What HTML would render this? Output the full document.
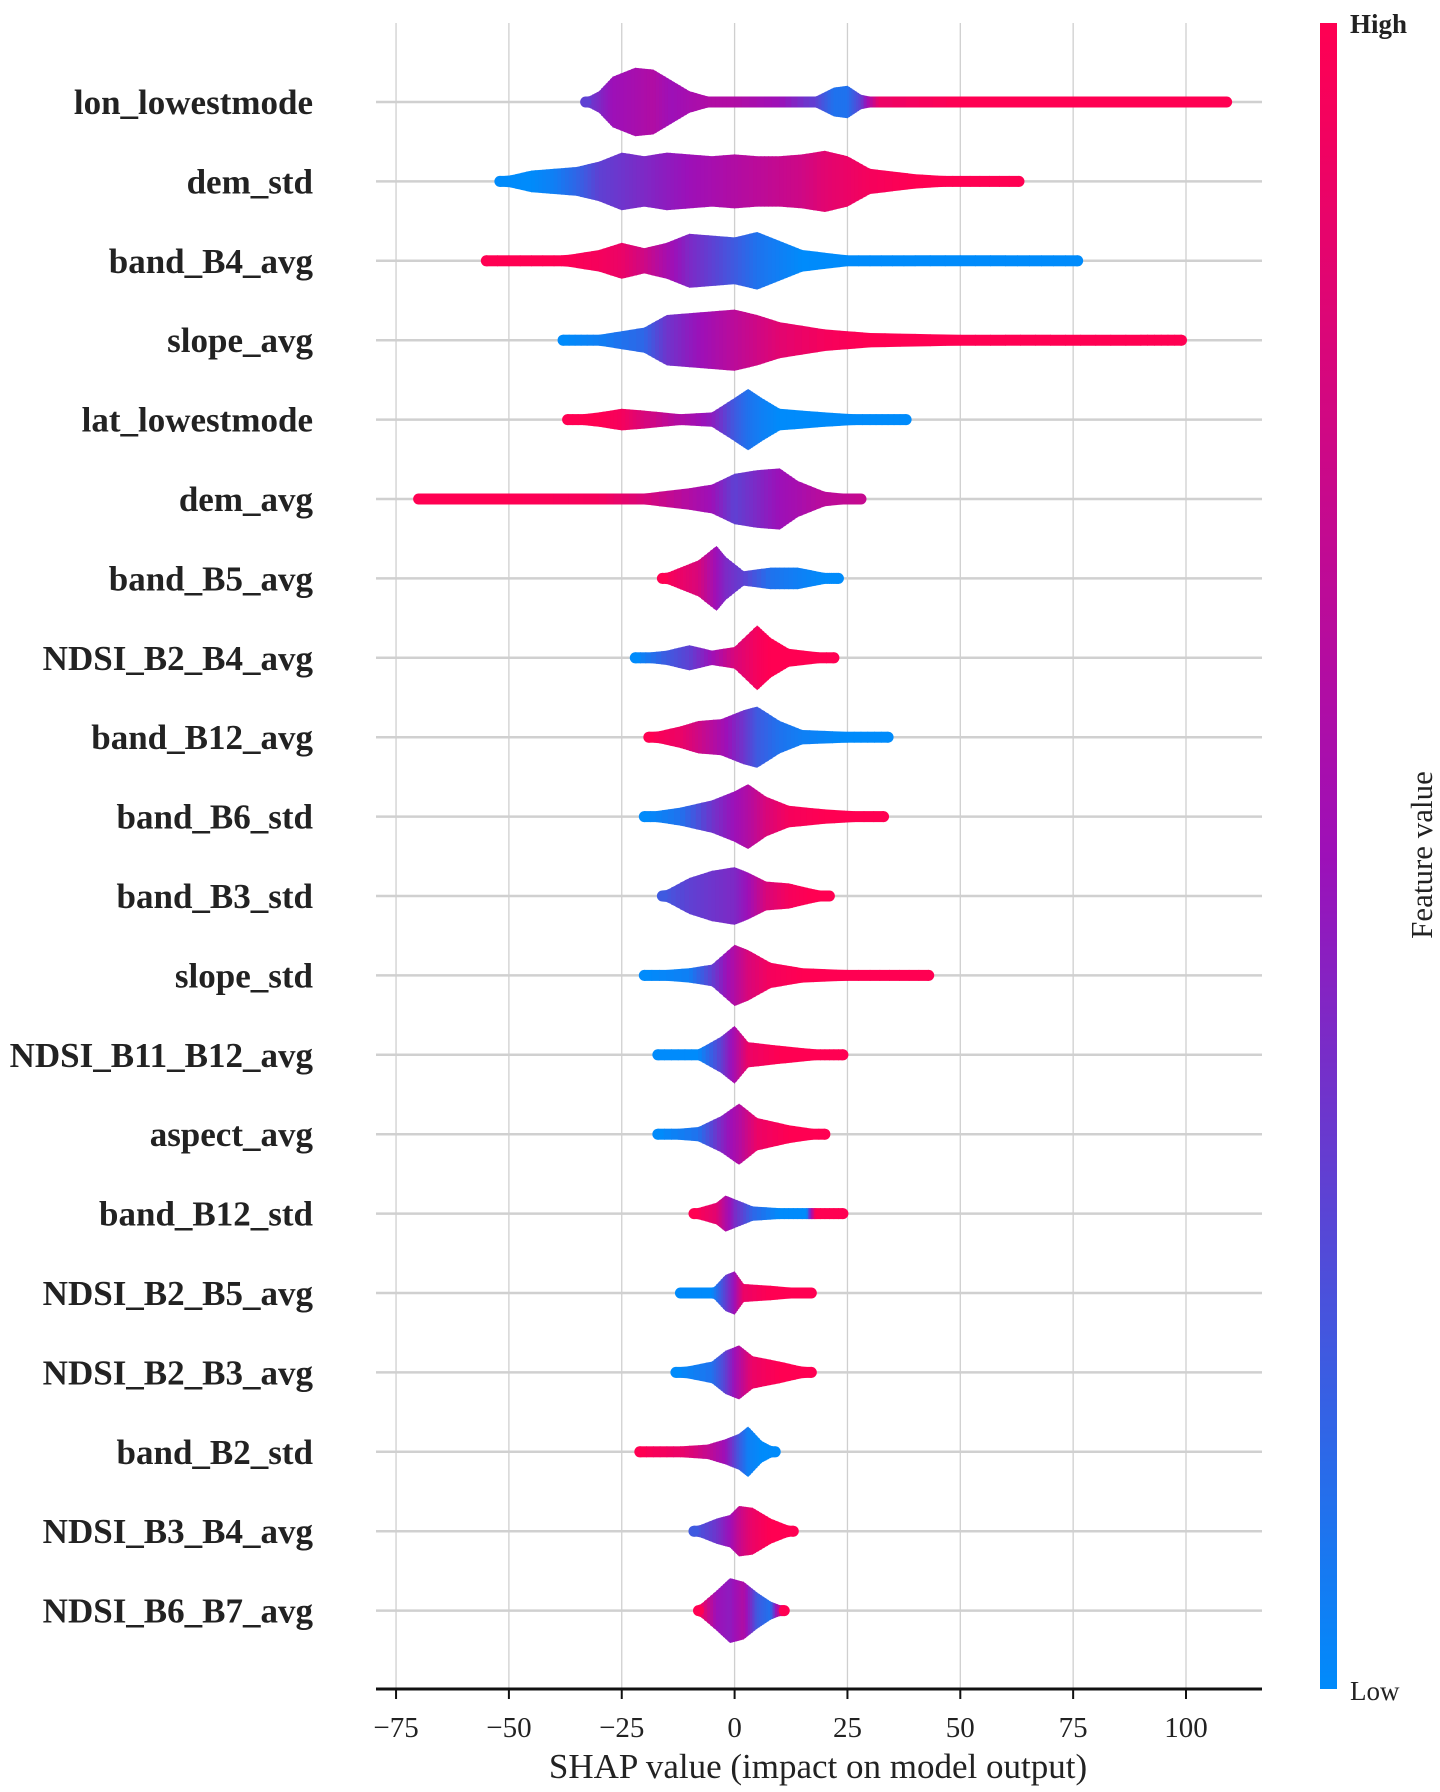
<!DOCTYPE html>
<html><head><meta charset="utf-8"><style>
body{margin:0;background:#fff}
svg{display:block;font-family:"Liberation Serif",serif}
</style></head><body>
<svg id="chart" width="1440" height="1792" viewBox="0 0 1440 1792">
<defs><linearGradient id="cbar" x1="0" y1="0" x2="0" y2="1">
<stop offset="0" stop-color="#ff0052"/><stop offset="0.5" stop-color="#9d10b8"/><stop offset="1" stop-color="#008bfb"/></linearGradient></defs>
<g id="grid"></g>
<g id="rows"></g>
<g id="axis"></g>
<rect x="1320" y="23" width="17" height="1666" fill="url(#cbar)"/>
<text x="1350" y="33" font-size="27" font-weight="bold" fill="#222">High</text>
<text x="1350" y="1700" font-size="27" fill="#222">Low</text>
<text transform="translate(1432,855) rotate(-90)" text-anchor="middle" font-size="31" fill="#222">Feature value</text>
<text x="818" y="1778" text-anchor="middle" font-size="35" fill="#222">SHAP value (impact on model output)</text>
</svg>
<script>
const features=["lon_lowestmode","dem_std","band_B4_avg","slope_avg","lat_lowestmode","dem_avg","band_B5_avg","NDSI_B2_B4_avg","band_B12_avg","band_B6_std","band_B3_std","slope_std","NDSI_B11_B12_avg","aspect_avg","band_B12_std","NDSI_B2_B5_avg","NDSI_B2_B3_avg","band_B2_std","NDSI_B3_B4_avg","NDSI_B6_B7_avg"];
const ticks=[-75,-50,-25,0,25,50,75,100];
const tickLabels=["\u221275","\u221250","\u221225","0","25","50","75","100"];
// per feature: [shap value, density, feature value colour 0..1]
const s_lon=[[-33,.1,.3],[-30,.3,.4],[-27,.7,.5],[-22,.95,.55],[-18,.9,.6],[-14,.6,.5],[-10,.3,.55],[-5,.12,.6],[0,.1,.6],[10,.1,.5],[18,.15,.3],[22,.4,.1],[25,.45,.1],[28,.2,.3],[32,.1,.9],[50,.08,1],[80,.07,1],[109,.07,1]];
const s_demstd=[[-52,.1,0],[-45,.3,0],[-40,.35,.05],[-35,.4,.15],[-30,.55,.3],[-25,.8,.35],[-20,.7,.4],[-15,.8,.45],[-10,.75,.5],[-5,.7,.55],[0,.75,.6],[5,.7,.65],[10,.7,.7],[15,.75,.75],[20,.85,.85],[25,.7,.9],[30,.35,.95],[40,.2,1],[50,.12,1],[63,.08,1]];
const s_b4=[[-55,.08,1],[-40,.1,1],[-30,.3,.95],[-25,.5,.9],[-20,.35,.75],[-15,.5,.55],[-10,.75,.4],[-5,.7,.3],[0,.65,.2],[5,.8,.1],[10,.55,.05],[15,.3,0],[25,.15,0],[40,.12,0],[60,.08,0],[76,.07,0]];
const s_slope=[[-38,.1,0],[-30,.15,.05],[-20,.35,.15],[-15,.7,.35],[-10,.75,.45],[-5,.8,.55],[0,.85,.65],[5,.7,.75],[10,.5,.85],[20,.3,.95],[30,.2,1],[50,.15,1],[70,.12,1],[90,.1,1],[99,.08,1]];
const s_lat=[[-37,.1,1],[-30,.2,1],[-25,.3,.95],[-20,.25,.8],[-12,.15,.6],[-5,.2,.45],[0,.6,.2],[3,.85,.1],[6,.6,.05],[10,.3,0],[20,.2,0],[30,.12,0],[38,.08,0]];
const s_demavg=[[-70,.08,1],[-50,.1,1],[-30,.12,.95],[-20,.15,.8],[-10,.3,.6],[-5,.4,.5],[0,.7,.3],[5,.8,.4],[10,.85,.5],[14,.5,.55],[20,.2,.65],[28,.1,.7]];
const s_b5=[[-16,.1,1],[-12,.3,.9],[-8,.5,.8],[-4,.9,.5],[-2,.6,.4],[2,.2,.3],[8,.3,.1],[14,.3,.05],[20,.15,0],[23,.1,0]];
const s_n24=[[-22,.1,0],[-15,.2,.2],[-10,.35,.3],[-5,.2,.5],[0,.3,.8],[5,.9,.95],[8,.55,1],[12,.25,1],[22,.1,1]];
const s_b12=[[-19,.1,1],[-12,.3,.9],[-8,.45,.75],[-3,.5,.55],[2,.75,.35],[5,.85,.2],[10,.45,.1],[15,.2,.05],[25,.15,0],[34,.08,0]];
const s_b6s=[[-20,.1,0],[-12,.25,.1],[-5,.45,.35],[0,.7,.5],[3,.9,.6],[7,.55,.8],[12,.3,.95],[20,.2,1],[33,.1,1]];
const s_b3s=[[-16,.1,.2],[-10,.5,.3],[-5,.7,.35],[0,.8,.4],[3,.65,.5],[7,.4,.8],[12,.35,.95],[17,.2,1],[21,.1,1]];
const s_slopes=[[-20,.1,0],[-10,.2,.05],[-5,.3,.3],[0,.85,.6],[3,.7,.8],[8,.35,.95],[15,.2,1],[30,.12,1],[43,.08,1]];
const s_n1112=[[-17,.1,0],[-8,.15,0],[-3,.5,.3],[0,.8,.55],[3,.35,.9],[10,.25,1],[18,.15,1],[24,.1,1]];
const s_aspect=[[-17,.1,0],[-8,.2,.1],[-3,.5,.4],[1,.85,.6],[5,.45,.9],[12,.25,1],[20,.1,1]];
const s_b12s=[[-9,.12,1],[-4,.3,.85],[-2,.5,.6],[0,.4,.4],[4,.2,.15],[10,.15,0],[16,.15,0],[18,.12,1],[24,.1,1]];
const s_n25=[[-12,.1,0],[-5,.1,0],[-2,.5,.3],[0,.6,.5],[2,.25,.9],[8,.2,1],[17,.1,1]];
const s_n23=[[-13,.1,0],[-5,.3,.1],[-2,.6,.3],[1,.75,.6],[4,.45,.9],[10,.3,1],[17,.1,1]];
const s_b2s=[[-21,.1,1],[-12,.15,.9],[-6,.2,.7],[-2,.35,.5],[1,.5,.2],[3,.7,.05],[6,.3,0],[9,.1,0]];
const s_n34=[[-9,.1,.2],[-4,.35,.35],[-1,.45,.5],[1,.7,.7],[4,.65,.9],[8,.35,1],[13,.1,1]];
const s_n67=[[-8,.12,1],[-4,.55,.5],[-1,.9,.45],[2,.8,.6],[5,.5,.2],[8,.25,.1],[11,.1,1]];
const series=[s_lon,s_demstd,s_b4,s_slope,s_lat,s_demavg,s_b5,s_n24,s_b12,s_b6s,s_b3s,s_slopes,s_n1112,s_aspect,s_b12s,s_n25,s_n23,s_b2s,s_n34,s_n67];

const NS="http://www.w3.org/2000/svg";
const X0=376,X1=1262,AXY=1689;
function xs(v){return 734.6+v*4.514;}
function ys(i){return 102+i*79.4;}
function hs(d){return Math.max(d*36,5.5);}
function col(c){const a=[0,139,251],m=[157,16,184],b=[255,0,82];let p,q,t;if(c<.5){p=a;q=m;t=c/.5;}else{p=m;q=b;t=(c-.5)/.5;}return "rgb("+p.map((v,k)=>Math.round(v+(q[k]-v)*t)).join(",")+")";}
function mk(tag,attrs,parent){const e=document.createElementNS(NS,tag);for(const k in attrs)e.setAttribute(k,attrs[k]);parent.appendChild(e);return e;}
const grid=document.getElementById('grid'),rows=document.getElementById('rows'),axis=document.getElementById('axis');
ticks.forEach((t,i)=>{
 const g=mk('line',{x1:xs(t),x2:xs(t),y1:23,y2:AXY,stroke:"#cfcfcf","stroke-width":1.3},grid);
 
 
 const tk=mk('line',{x1:xs(t),x2:xs(t),y1:AXY,y2:AXY+10,stroke:"#111","stroke-width":2},axis);
 
 
 const tl=mk('text',{x:xs(t),y:1737,"text-anchor":"middle","font-size":29,fill:"#222"},axis);
 
 
 tl.textContent=tickLabels[i];
});
const al=mk('line',{x1:X0,x2:X1,y1:AXY,y2:AXY,stroke:"#111","stroke-width":3},axis);


features.forEach((f,i)=>{
 const y=ys(i);
 const hl=mk('line',{x1:X0,x2:X1,y1:y,y2:y,stroke:"#d0d0d0","stroke-width":2.5},grid);
 
 
 const lb=mk('text',{x:313,y:y+12,"text-anchor":"end","font-size":35,"font-weight":"bold",fill:"#222"},rows);
 
 
 lb.textContent=f;
 const g=mk('g',{},rows);
 
 
 const s=series[i];
 for(let k=0;k<s.length-1;k++){
  const a=s[k],b=s[k+1],n=6;
  for(let j=0;j<n;j++){
   const t0=j/n,t1=(j+1)/n;
   const v0=a[0]+(b[0]-a[0])*t0,v1=a[0]+(b[0]-a[0])*t1;
   const h0=hs(a[1]+(b[1]-a[1])*t0),h1=hs(a[1]+(b[1]-a[1])*t1);
   const c=a[2]+(b[2]-a[2])*(t0+t1)/2;
   const p=mk('polygon',{points:`${xs(v0)-0.4},${y-h0} ${xs(v1)+0.4},${y-h1} ${xs(v1)+0.4},${y+h1} ${xs(v0)-0.4},${y+h0}`,fill:col(c)},g);
   
   
  }
 }
 [s[0],s[s.length-1]].forEach(e=>{
  const d=mk('circle',{cx:xs(e[0]),cy:y,r:hs(e[1]),fill:col(e[2])},g);
  
  
 });
});
</script>
</body></html>
